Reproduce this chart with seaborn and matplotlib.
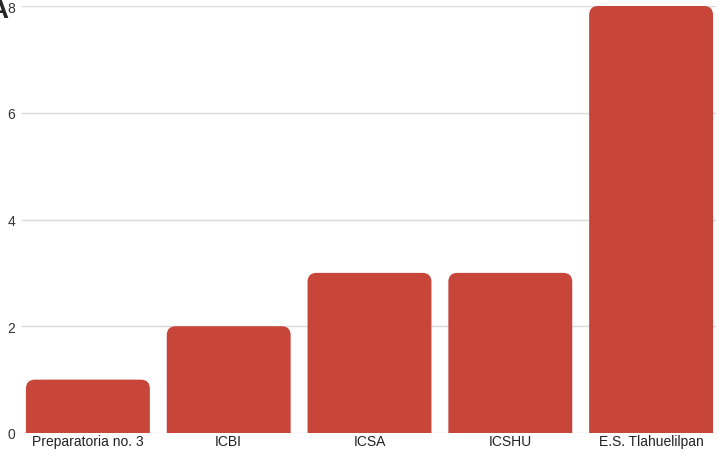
import matplotlib
matplotlib.use("Agg")
import matplotlib.pyplot as plt
import seaborn as sns
from matplotlib.patches import FancyBboxPatch

categories = ["Preparatoria no. 3", "ICBI", "ICSA", "ICSHU", "E.S. Tlahuelilpan"]
values = [1, 2, 3, 3, 8]
yticks = [0, 2, 4, 6, 8]
bar_color = "#c8453a"

sns.set_style("white")
plt.rcParams['font.family'] = ['Liberation Sans', 'DejaVu Sans']

fig = plt.figure(figsize=(7.19, 4.52), dpi=100)
ax_left, ax_bottom, ax_w, ax_h = 22 / 719, 18 / 452, 694 / 719, 427 / 452
ax = fig.add_axes([ax_left, ax_bottom, ax_w, ax_h])

sns.barplot(x=categories, y=values, color=bar_color, width=0.88, ax=ax, saturation=1)

xlim = (-0.468, 4.461)
ylim = (0, 8)
ax.set_xlim(*xlim)
ax.set_ylim(*ylim)

# swap plain bars for rounded-top ones
w_px = ax_w * 719
h_px = ax_h * 452
aspect = ((ylim[1] - ylim[0]) / h_px) / ((xlim[1] - xlim[0]) / w_px)
r = 9 * (xlim[1] - xlim[0]) / w_px
for p in list(ax.patches):
    x, w, h = p.get_x(), p.get_width(), p.get_height()
    p.remove()
    fb = FancyBboxPatch((x, -0.3), w, h + 0.3,
                        boxstyle=f"round,pad=0,rounding_size={r}",
                        mutation_aspect=aspect, facecolor=bar_color,
                        edgecolor="none", zorder=3)
    ax.add_patch(fb)

ax.set_yticks(yticks)
ax.yaxis.grid(True, color="#d9d9d9", linewidth=1)
ax.set_axisbelow(True)
for s in ax.spines.values():
    s.set_visible(False)
ax.tick_params(axis="y", length=0, pad=5, labelsize=10, colors="#333333")
ax.tick_params(axis="x", length=0, pad=1, labelsize=10, colors="#222222")
ax.set_xlabel("")
ax.set_ylabel("")

# panel letter, mostly cut off at the left edge as in the source figure
fig.text(0.012, 0.975, "A", fontsize=20, fontweight="bold", va="center", ha="right")

fig.savefig("out.png", dpi=100)
